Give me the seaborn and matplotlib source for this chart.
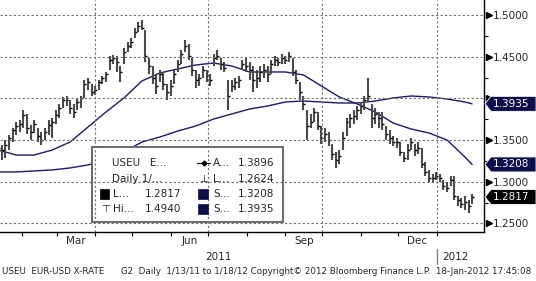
import numpy as np
import pandas as pd
import matplotlib
matplotlib.use("Agg")
import matplotlib.pyplot as plt
import seaborn as sns
from matplotlib.patches import Rectangle, Polygon
from matplotlib.lines import Line2D
from matplotlib import transforms

# ---------------- data ----------------
START, END = "2011-01-13", "2012-01-18"

bar_high = [
    1.3476, 1.344, 1.350, 1.356, 1.3644, 1.3716, 1.374, 1.386, 1.3812, 1.368,
    1.374, 1.3644, 1.3596, 1.3644, 1.374, 1.3764, 1.386, 1.3932, 1.4016, 1.4028,
    1.398, 1.3932, 1.4004, 1.4028, 1.422, 1.4244, 1.4172, 1.4148, 1.422, 1.4268,
    1.4316, 1.4508, 1.452, 1.4508, 1.4388, 1.4604, 1.4676, 1.4724, 1.4844, 1.4916,
    1.494, 1.482, 1.4484, 1.4388, 1.4292, 1.434, 1.4316, 1.4172, 1.422, 1.434,
    1.446, 1.458, 1.470, 1.4652, 1.4484, 1.434, 1.4292, 1.4388, 1.434, 1.4292,
    1.4532, 1.458, 1.4484, 1.4436, 1.422, 1.422, 1.4244, 1.4268, 1.446, 1.4484,
    1.4436, 1.4388, 1.434, 1.4388, 1.4412, 1.4388, 1.446, 1.4508, 1.4484, 1.4532,
    1.4508, 1.4556, 1.4484, 1.434, 1.4196, 1.4028, 1.386, 1.3812, 1.3884, 1.3836,
    1.3668, 1.3644, 1.3596, 1.3452, 1.3356, 1.338, 1.3596, 1.3764, 1.3812, 1.386,
    1.3908, 1.3956, 1.4028, 1.4244, 1.3932, 1.3884, 1.3836, 1.3836, 1.3668, 1.362,
    1.3548, 1.3524, 1.3476, 1.3356, 1.3452, 1.3524, 1.3452, 1.3476, 1.3404, 1.3236,
    1.314, 1.3092, 1.3116, 1.3092, 1.302, 1.2996, 1.3068, 1.3068, 1.2828, 1.2804,
    1.2828, 1.278, 1.2852,
]
bar_low = [
    1.3356, 1.326, 1.3284, 1.338, 1.3476, 1.356, 1.3596, 1.3644, 1.3572, 1.350,
    1.3584, 1.3476, 1.344, 1.350, 1.356, 1.3524, 1.3692, 1.3764, 1.3884, 1.3908,
    1.3812, 1.3764, 1.386, 1.3884, 1.4004, 1.410, 1.4028, 1.404, 1.410, 1.4172,
    1.4196, 1.434, 1.4412, 1.4316, 1.4196, 1.4412, 1.4556, 1.4604, 1.4724, 1.4796,
    1.482, 1.4436, 1.4292, 1.4172, 1.4052, 1.4196, 1.410, 1.398, 1.4028, 1.4172,
    1.4316, 1.4412, 1.4556, 1.446, 1.4268, 1.4124, 1.4148, 1.4244, 1.4196, 1.4148,
    1.4388, 1.446, 1.434, 1.4316, 1.386, 1.4076, 1.410, 1.4124, 1.434, 1.4316,
    1.422, 1.4076, 1.4124, 1.4196, 1.4244, 1.4196, 1.4292, 1.4388, 1.4388, 1.4412,
    1.4412, 1.4436, 1.4268, 1.4172, 1.398, 1.386, 1.350, 1.3644, 1.3716, 1.362,
    1.3452, 1.3476, 1.3428, 1.326, 1.3164, 1.3212, 1.338, 1.3548, 1.3644, 1.3692,
    1.374, 1.3812, 1.386, 1.3956, 1.3644, 1.3692, 1.3644, 1.362, 1.350, 1.3452,
    1.3428, 1.3404, 1.3308, 1.3236, 1.326, 1.338, 1.3308, 1.3332, 1.3164, 1.3068,
    1.2996, 1.2996, 1.302, 1.2996, 1.290, 1.2876, 1.2948, 1.278, 1.2708, 1.2684,
    1.266, 1.2624, 1.2732,
]
bar_close = [
    1.3404, 1.338, 1.344, 1.3524, 1.362, 1.3668, 1.3692, 1.380, 1.3644, 1.3596,
    1.3692, 1.3548, 1.350, 1.3596, 1.368, 1.3716, 1.380, 1.3884, 1.398, 1.398,
    1.3884, 1.3836, 1.3956, 1.4004, 1.4172, 1.4196, 1.4076, 1.410, 1.4196, 1.4244,
    1.4292, 1.446, 1.4484, 1.4436, 1.4316, 1.4556, 1.4628, 1.4676, 1.4796, 1.4868,
    1.4844, 1.4508, 1.4388, 1.4244, 1.4148, 1.4292, 1.4172, 1.4076, 1.4148, 1.4292,
    1.4412, 1.4532, 1.4628, 1.4508, 1.434, 1.422, 1.4244, 1.434, 1.4268, 1.422,
    1.4484, 1.4508, 1.4412, 1.4364, 1.4028, 1.4148, 1.4196, 1.422, 1.4412, 1.4388,
    1.434, 1.422, 1.4244, 1.4316, 1.434, 1.4292, 1.4412, 1.446, 1.4436, 1.4484,
    1.446, 1.4508, 1.4316, 1.422, 1.4076, 1.3932, 1.3668, 1.3716, 1.3836, 1.3668,
    1.3524, 1.3572, 1.350, 1.3332, 1.326, 1.3308, 1.3524, 1.3716, 1.3764, 1.3788,
    1.386, 1.3908, 1.398, 1.4028, 1.3764, 1.3812, 1.3764, 1.3692, 1.3572, 1.3524,
    1.3476, 1.3476, 1.3356, 1.3284, 1.338, 1.3476, 1.338, 1.3404, 1.3212, 1.3116,
    1.3044, 1.3044, 1.3068, 1.3044, 1.2948, 1.2924, 1.302, 1.2828, 1.278, 1.2732,
    1.2756, 1.2708, 1.2817,
]
ma50 = [1.3381, 1.3321, 1.3321, 1.3381, 1.3477, 1.3657, 1.3837, 1.4005, 1.4209,
        1.4305, 1.4353, 1.4401, 1.4424, 1.4389, 1.4317, 1.4317, 1.4317, 1.4281,
        1.4149, 1.4017, 1.3933, 1.3837, 1.3705, 1.3633, 1.3585, 1.3501, 1.3297,
        1.3208]
ma200 = [1.3118, 1.3118, 1.3130, 1.3142, 1.3166, 1.3202, 1.3273, 1.3357, 1.3477,
         1.3537, 1.3609, 1.3669, 1.3753, 1.3813, 1.3873, 1.3909, 1.3957, 1.3969,
         1.3957, 1.3945, 1.3945, 1.3969, 1.4005, 1.4029, 1.4017, 1.3993, 1.3957,
         1.3935]

y_ticks = [1.25, 1.30, 1.35, 1.40, 1.45, 1.50]
minor_ticks = [1.275, 1.325, 1.375, 1.425, 1.475]
month_labels = {3: "Mar", 6: "Jun", 9: "Sep", 12: "Dec"}
year_labels = ["2011", "2012"]

stat_last, stat_high, stat_low, stat_avg = 1.2817, 1.4940, 1.2624, 1.3896
stat_sma50, stat_sma200 = 1.3208, 1.3935
footer = ("USEU  EUR-USD X-RATE      G2  Daily  1/13/11 to 1/18/12 "
          "Copyright\u00a9 2012 Bloomberg Finance L.P.  18-Jan-2012 17:45:08")

# ---------------- style ----------------
sns.set_style("white")
plt.rcParams["font.family"] = ["DejaVu Sans"]
NAVY = "#1b1b66"
TAGNAVY = "#0e0e4a"
GRID = "#707070"
FS = 7.5

W, H = 536, 281
fig = plt.figure(figsize=(W / 100, H / 100), dpi=100)
fig.patch.set_facecolor("white")
AX_R, AX_B = 484, 232
ax = fig.add_axes([0, 1 - AX_B / H, AX_R / W, AX_B / H])
ax.set_facecolor("white")

def fx(px):
    return px / W

def fy(py):
    return 1 - py / H

dates = pd.bdate_range(START, END)
idx = np.arange(len(dates))
bar_x = idx[::2]
ma_x = np.append(idx[::10], idx[-1])

# price bars
ax.vlines(bar_x, bar_low, bar_high, color="#4a4a4a", lw=1.5, zorder=3)
ax.hlines(bar_close, bar_x, bar_x + 1.1, color="black", lw=1.0, zorder=3)

# moving averages with seaborn
ma_df = pd.DataFrame({"x": ma_x, "ma50": ma50, "ma200": ma200})
sns.lineplot(data=ma_df, x="x", y="ma50", ax=ax, color=NAVY, lw=1.0, zorder=2)
sns.lineplot(data=ma_df, x="x", y="ma200", ax=ax, color=NAVY, lw=1.0, zorder=2)

ax.set_xlim(0.95, 270.6)
ax.set_ylim(1.2398, 1.518)
ax.set_xlabel("")
ax.set_ylabel("")

# month ticks (Bloomberg calendar spacing)
TICK_SCALE = 0.692
start = pd.Timestamp(START)
month_starts = pd.date_range("2011-02-01", "2012-01-01", freq="MS")
mpos = np.array([(m - start).days * TICK_SCALE for m in month_starts])
ax.set_xticks(mpos)
ax.set_xticklabels([])
ax.tick_params(axis="x", direction="out", length=3, width=0.8, color="black",
               bottom=True)

# gridlines
for yv in y_ticks:
    ax.axhline(yv, color=GRID, lw=0.8, ls=(0, (2, 2)), zorder=5)
for m, p in zip(month_starts, mpos):
    if m.month in (4, 7, 10, 1):
        ax.axvline(p, color=GRID, lw=0.8, ls=(0, (2, 2)), zorder=5)

# month labels at month centres
bt = transforms.blended_transform_factory(ax.transData, ax.transAxes)
for i in range(len(month_starts) - 1):
    m = month_starts[i]
    if m.month in month_labels:
        c = (mpos[i] + mpos[i + 1]) / 2
        ax.text(c, (AX_B - 241.5) / AX_B, month_labels[m.month], transform=bt,
                ha="center", va="center", fontsize=FS)
jan = mpos[-1]
ax.text((ax.get_xlim()[0] + jan) / 2, (AX_B - 257) / AX_B, year_labels[0],
        transform=bt, ha="center", va="center", fontsize=FS)
ax.text(jan + 3, (AX_B - 257) / AX_B, year_labels[1], transform=bt,
        ha="left", va="center", fontsize=FS)
ax.plot([jan, jan], [(AX_B - 249) / AX_B, (AX_B - 264) / AX_B], transform=bt,
        color="#808080", lw=1.0, clip_on=False)

# right axis (value tags cover the 1.4000 label, as in the reference)
ax.yaxis.tick_right()
ax.set_yticks(y_ticks)
ax.set_yticklabels(["" if abs(v - 1.40) < 1e-9 else f"{v:.4f}" for v in y_ticks],
                   fontsize=FS)
ax.set_yticks(minor_ticks, minor=True)
ax.tick_params(axis="y", which="major", length=0, pad=6.5, right=True, left=False)
ax.tick_params(axis="y", which="minor", length=3, width=0.8, color="black",
               direction="out", right=True, left=False)
tri_t = transforms.offset_copy(
    transforms.blended_transform_factory(ax.transAxes, ax.transData),
    fig=fig, x=4.5, y=0, units="dots")
ax.plot([1.0] * len(y_ticks), y_ticks, transform=tri_t, ls="none", marker=">",
        ms=5, color="black", clip_on=False)

for side in ["top", "left"]:
    ax.spines[side].set_visible(False)
for side in ["right", "bottom"]:
    ax.spines[side].set_visible(True)
    ax.spines[side].set_color("black")
    ax.spines[side].set_linewidth(1.0)

# legend box (drawn inside axes, below gridlines)
box = Rectangle((fx(92), fy(222)), fx(283) - fx(92), fy(147) - fy(222),
                transform=fig.transFigure, facecolor="white", edgecolor="#6e6e6e",
                lw=1.5, zorder=4, clip_on=False)
ax.add_patch(box)

rows = [163, 179, 194, 209]
fig.text(fx(112), fy(rows[0]), "USEU   E...", fontsize=FS, va="center")
fig.text(fx(112), fy(rows[1]), "Daily 1/...", fontsize=FS, va="center")
fig.patches.append(Rectangle((fx(100), fy(199)), fx(9), 1 - fy(10), transform=fig.transFigure,
                             facecolor="black", edgecolor="black", lw=0.5))
fig.text(fx(113), fy(rows[2]), "L...", fontsize=FS, va="center")
fig.text(fx(145), fy(rows[2]), f"{stat_last:.4f}", fontsize=FS, va="center")
fig.text(fx(101), fy(rows[3]), "\u22a4", fontsize=FS, va="center")
fig.text(fx(113), fy(rows[3]), "Hi...", fontsize=FS, va="center")
fig.text(fx(145), fy(rows[3]), f"{stat_high:.4f}", fontsize=FS, va="center")

fig.lines.append(Line2D([fx(197), fx(210)], [fy(rows[0])] * 2, transform=fig.transFigure,
                        color="black", lw=0.8))
fig.lines.append(Line2D([fx(203.5)], [fy(rows[0])], transform=fig.transFigure,
                        marker="D", ms=2.5, color="black"))
fig.text(fx(213), fy(rows[0]), "A...", fontsize=FS, va="center")
fig.text(fx(238), fy(rows[0]), f"{stat_avg:.4f}", fontsize=FS, va="center")
fig.text(fx(199), fy(rows[1]), "\u22a5", fontsize=FS, va="center")
fig.text(fx(213), fy(rows[1]), "L...", fontsize=FS, va="center")
fig.text(fx(238), fy(rows[1]), f"{stat_low:.4f}", fontsize=FS, va="center")
for r, v in ((rows[2], stat_sma50), (rows[3], stat_sma200)):
    fig.patches.append(Rectangle((fx(198), fy(r + 5)), fx(10), 1 - fy(10),
                                 transform=fig.transFigure, facecolor=TAGNAVY,
                                 edgecolor=TAGNAVY, lw=0.5))
    fig.text(fx(213), fy(r), "S...", fontsize=FS, va="center")
    fig.text(fx(238), fy(r), f"{v:.4f}", fontsize=FS, va="center")

# value tags on the right axis
for v, col in ((stat_sma200, TAGNAVY), (stat_sma50, TAGNAVY), (stat_last, "black")):
    yd = ax.transData.transform((0, v))[1]  # display px from bottom
    yf = yd / H
    hh = 7.5 / H
    poly = Polygon([(fx(485), yf), (fx(491), yf + hh), (fx(536), yf + hh),
                    (fx(536), yf - hh), (fx(491), yf - hh)], closed=True,
                   transform=fig.transFigure, facecolor=col, edgecolor="white",
                   lw=0.6)
    fig.patches.append(poly)
    fig.text(fx(493), yf, f"{v:.4f}", color="white", fontsize=FS, va="center",
             ha="left")

# footer
fig.text(fx(2), fy(271.5), footer, fontsize=6.35, va="center", ha="left")

fig.savefig("out.png", dpi=100, facecolor="white")
